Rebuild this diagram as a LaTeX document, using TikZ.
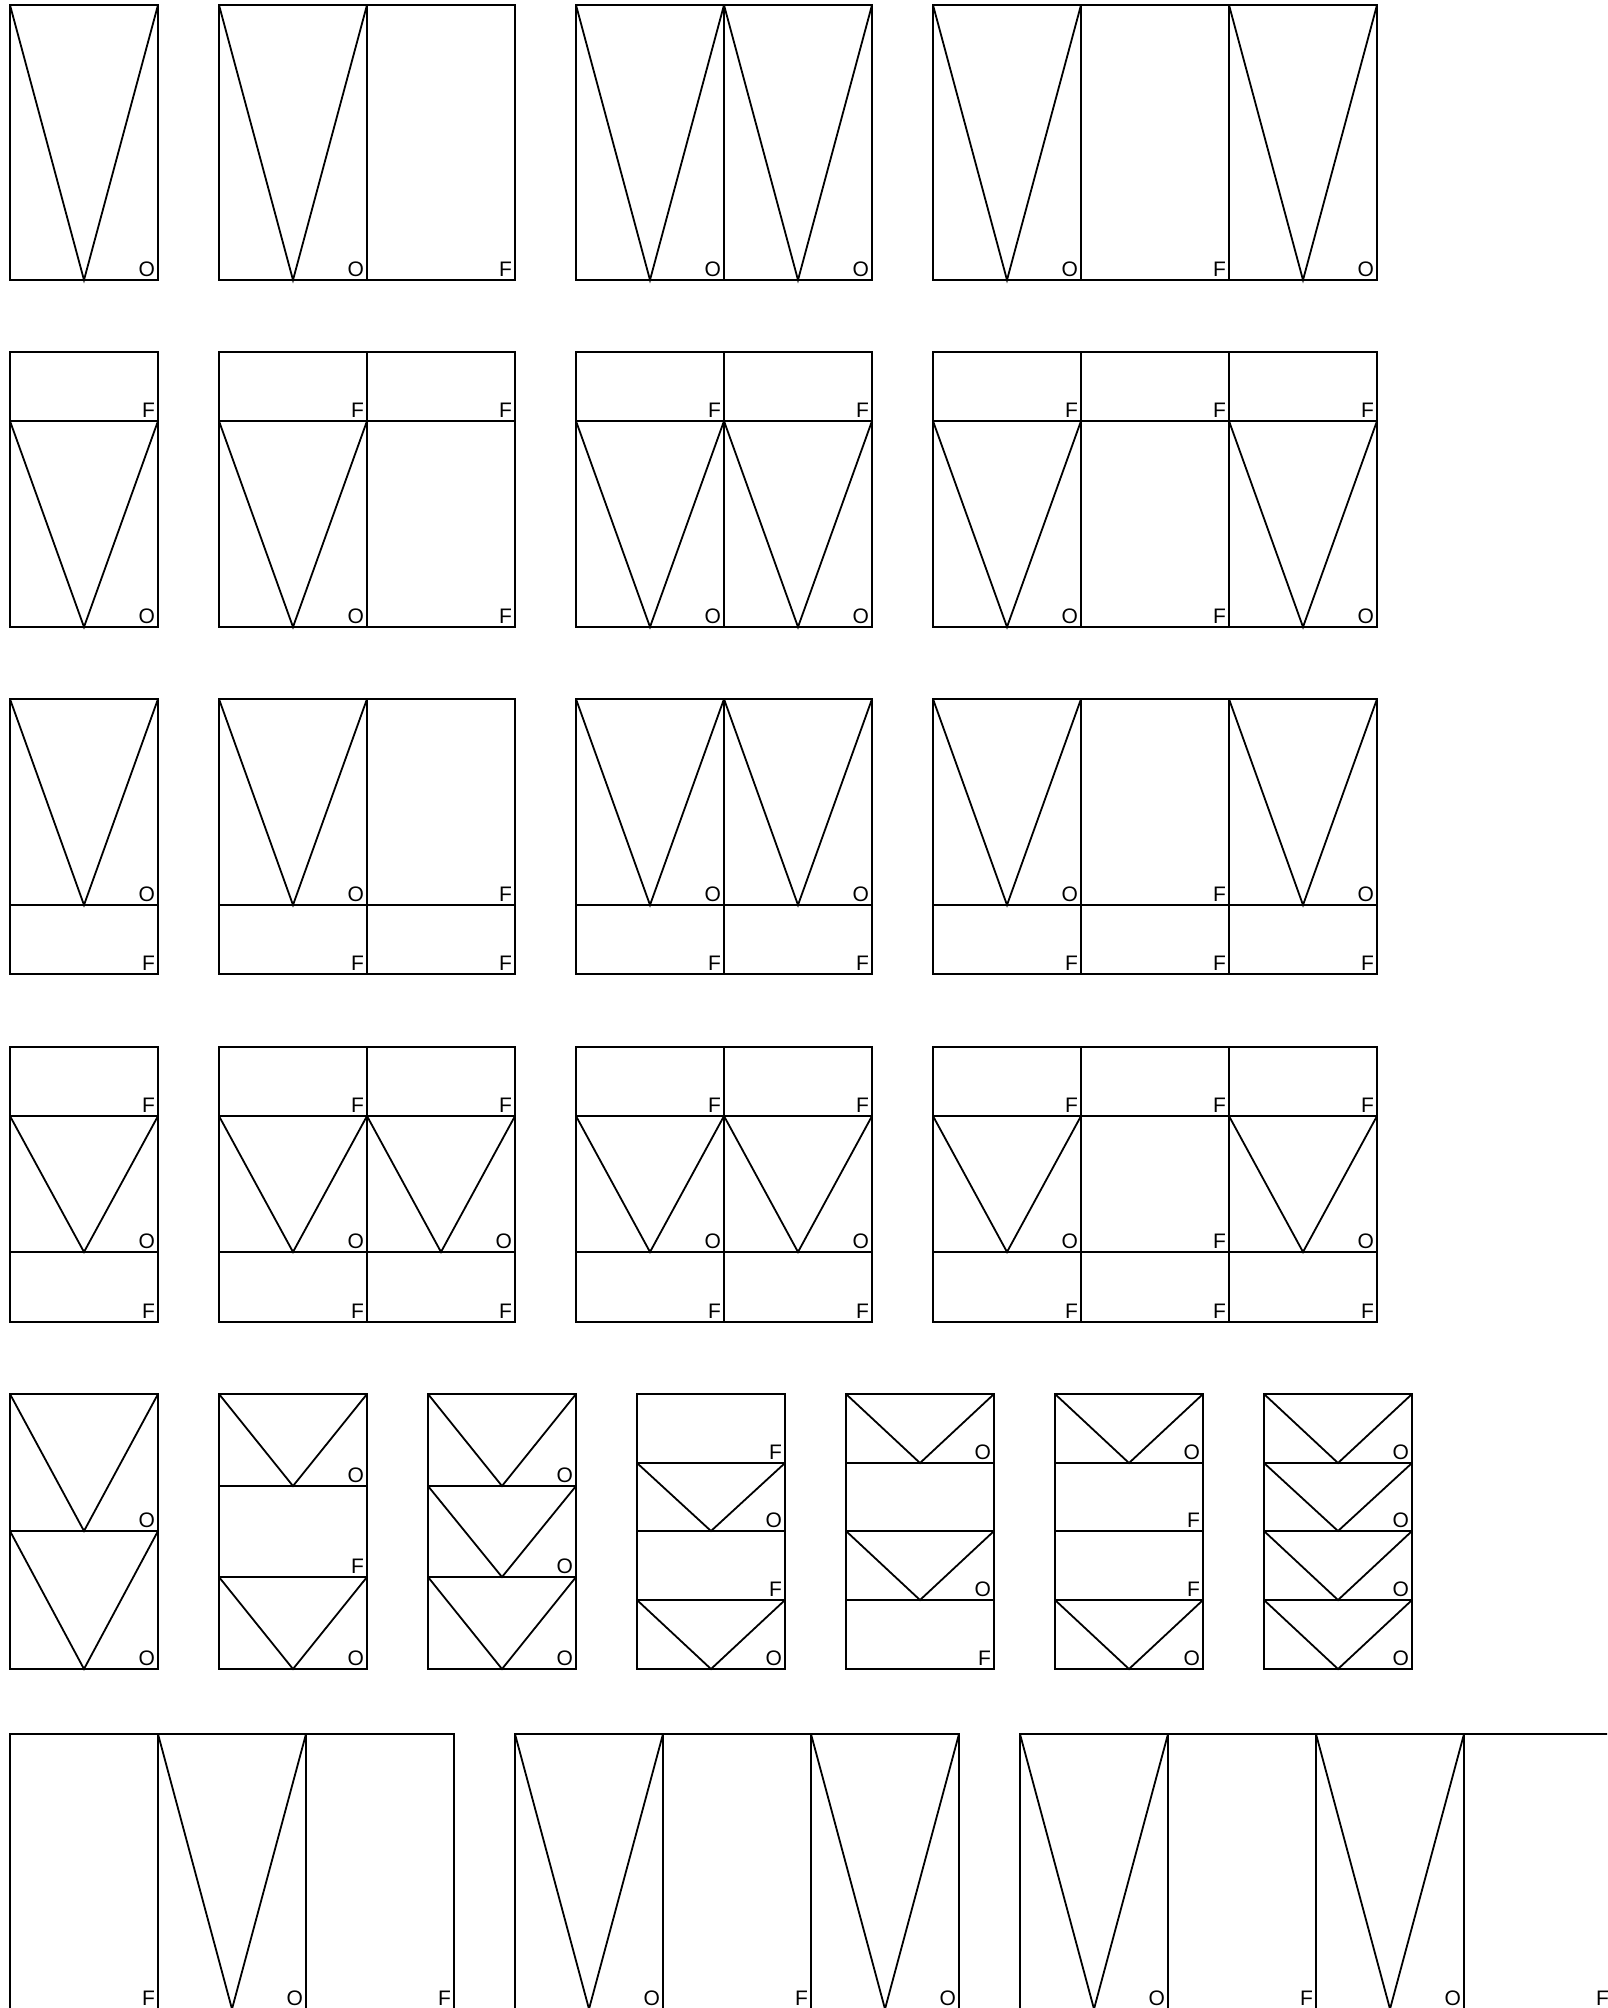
\documentclass[tikz,border=0pt]{standalone}
\usepackage{fontspec}
\setmainfont{Liberation Sans}
\usepackage{tikz}

% cell macros: x, top, bottom
\newcommand{\vcell}[3]{%
  \draw[frame] (#1,#2) rectangle (#1+148,#3);
  \draw[frame] (#1,#2) -- (#1+74,#3) -- (#1+148,#2);
  \node[tag] (o-#1-#3) at (#1+148,#3) {O};}
\newcommand{\fcell}[3]{%
  \draw[frame] (#1,#2) rectangle (#1+148,#3);
  \node[tag] (f-#1-#3) at (#1+148,#3) {F};}
\newcommand{\bcell}[3]{%
  \draw[frame] (#1,#2) rectangle (#1+148,#3);}

\begin{document}
\begin{tikzpicture}[
  x=0.5pt, y=-0.5pt,
  frame/.style={line width=0.9pt, line join=miter},
  tag/.style={anchor=south east, inner xsep=1.3pt, inner ysep=1.4pt, font=\fontsize{10.5}{12}\selectfont}
]
  \clip (0,0) rectangle (1607,2008);

  % row 1: full height
  \vcell{10}{5}{280}
  \vcell{219}{5}{280} \fcell{367}{5}{280}
  \vcell{576}{5}{280} \vcell{724}{5}{280}
  \vcell{933}{5}{280} \fcell{1081}{5}{280} \vcell{1229}{5}{280}

  % row 2: strip on top
  \foreach \x in {10,219,367,576,724,933,1081,1229} {\fcell{\x}{352}{421}}
  \vcell{10}{421}{627}
  \vcell{219}{421}{627} \fcell{367}{421}{627}
  \vcell{576}{421}{627} \vcell{724}{421}{627}
  \vcell{933}{421}{627} \fcell{1081}{421}{627} \vcell{1229}{421}{627}

  % row 3: strip below
  \vcell{10}{699}{905}
  \vcell{219}{699}{905} \fcell{367}{699}{905}
  \vcell{576}{699}{905} \vcell{724}{699}{905}
  \vcell{933}{699}{905} \fcell{1081}{699}{905} \vcell{1229}{699}{905}
  \foreach \x in {10,219,367,576,724,933,1081,1229} {\fcell{\x}{905}{974}}

  % row 4: strips on both sides
  \foreach \x in {10,219,367,576,724,933,1081,1229} {\fcell{\x}{1047}{1116}}
  \vcell{10}{1116}{1252}
  \vcell{219}{1116}{1252} \vcell{367}{1116}{1252}
  \vcell{576}{1116}{1252} \vcell{724}{1116}{1252}
  \vcell{933}{1116}{1252} \fcell{1081}{1116}{1252} \vcell{1229}{1116}{1252}
  \foreach \x in {10,219,367,576,724,933,1081,1229} {\fcell{\x}{1252}{1322}}

  % row 5: stacked columns
  \vcell{10}{1394}{1531} \vcell{10}{1531}{1669}
  \vcell{219}{1394}{1486} \fcell{219}{1486}{1577} \vcell{219}{1577}{1669}
  \vcell{428}{1394}{1486} \vcell{428}{1486}{1577} \vcell{428}{1577}{1669}
  \fcell{637}{1394}{1463} \vcell{637}{1463}{1531} \fcell{637}{1531}{1600} \vcell{637}{1600}{1669}
  \vcell{846}{1394}{1463} \bcell{846}{1463}{1531} \vcell{846}{1531}{1600} \fcell{846}{1600}{1669}
  \vcell{1055}{1394}{1463} \fcell{1055}{1463}{1531} \fcell{1055}{1531}{1600} \vcell{1055}{1600}{1669}
  \vcell{1264}{1394}{1463} \vcell{1264}{1463}{1531} \vcell{1264}{1531}{1600} \vcell{1264}{1600}{1669}

  % row 6: runs cut by the page edge
  \fcell{10}{1734}{2009} \vcell{158}{1734}{2009} \fcell{306}{1734}{2009}
  \vcell{515}{1734}{2009} \fcell{663}{1734}{2009} \vcell{811}{1734}{2009}
  \vcell{1020}{1734}{2009} \fcell{1168}{1734}{2009} \vcell{1316}{1734}{2009} \fcell{1464}{1734}{2009}
\end{tikzpicture}
\end{document}
